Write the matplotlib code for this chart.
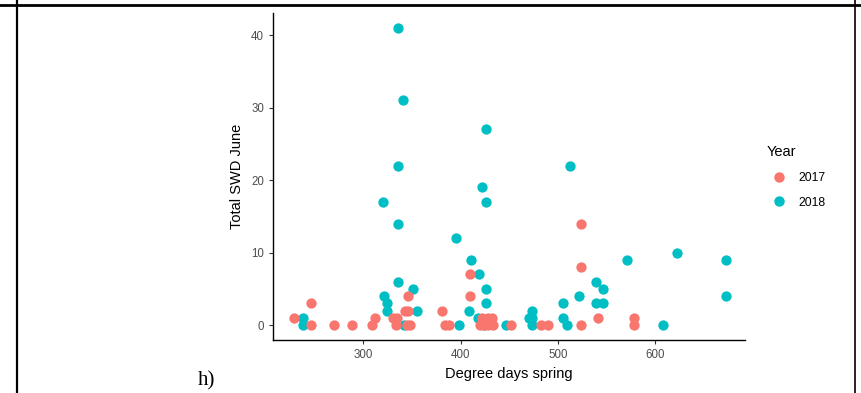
import matplotlib

matplotlib.use("Agg")
import matplotlib.pyplot as plt
from matplotlib.lines import Line2D

# ---- data ------------------------------------------------------------------
dd_2017 = [229, 247, 247, 270, 289, 309, 312, 331, 335, 334, 343, 346, 346,
           345, 348, 381, 384, 388, 410, 410, 422, 428, 432, 420, 424, 428,
           433, 452, 483, 490, 524, 524, 524, 541, 578, 578]
swd_2017 = [1, 3, 0, 0, 0, 0, 1, 1, 1, 0, 2, 2, 4,
            0, 0, 2, 0, 0, 4, 7, 1, 1, 1, 0, 0, 0,
            0, 0, 0, 0, 0, 8, 14, 1, 1, 0]

dd_2018 = [238, 238, 320, 321, 325, 325, 336, 336, 336, 336, 341, 342, 351,
           355, 395, 398, 409, 411, 418, 419, 422, 426, 426, 426, 426, 424,
           447, 470, 473, 473, 473, 505, 505, 509, 512, 522, 539, 539, 546,
           546, 571, 608, 622, 672, 672]
swd_2018 = [1, 0, 17, 4, 3, 2, 41, 22, 14, 6, 31, 0, 5,
            2, 12, 0, 2, 9, 1, 7, 19, 27, 17, 5, 3, 0,
            0, 1, 2, 1, 0, 3, 1, 0, 22, 4, 6, 3, 5,
            3, 9, 0, 10, 9, 4]

years = ["2017", "2018"]
colors = ["#F8766D", "#00BFC4"]
x_ticks = [300, 400, 500, 600]
y_ticks = [0, 10, 20, 30, 40]

plt.rcParams.update({"font.family": ["Liberation Sans", "DejaVu Sans"]})

W, H = 861, 393
fig = plt.figure(figsize=(W / 100, H / 100), dpi=100)

# page/table decoration around the panel
deco = fig.add_axes([0, 0, 1, 1])
deco.set_xlim(0, W)
deco.set_ylim(H, 0)
deco.axis("off")
deco.plot([0, W], [5, 5], color="black", lw=2.0)
deco.plot([17, 17], [0, H], color="black", lw=1.6)
deco.plot([855, 855], [0, H], color="black", lw=1.2)
deco.text(198, 381, "h)", family="Liberation Serif", fontsize=15,
          ha="left", va="center")

ax = fig.add_axes([273 / W, 1 - 340 / H, (745 - 273) / W, (340 - 12.7) / H])
ax.scatter(dd_2017, swd_2017, s=55, color=colors[0], linewidths=0, zorder=3)
ax.scatter(dd_2018, swd_2018, s=55, color=colors[1], linewidths=0, zorder=2)

ax.set_xlim(207.5, 692)
ax.set_ylim(-2.07, 43.1)
ax.set_xticks(x_ticks)
ax.set_yticks(y_ticks)
for s in ["top", "right"]:
    ax.spines[s].set_visible(False)
for s in ["left", "bottom"]:
    ax.spines[s].set_linewidth(1.0)
ax.tick_params(colors="#333333", labelcolor="#4D4D4D", labelsize=8.3,
               length=3, width=0.8)
ax.set_xlabel("Degree days spring", fontsize=10.5, labelpad=4)
ax.set_ylabel("Total SWD June", fontsize=10.5, labelpad=5)

handles = [Line2D([], [], marker="o", ls="", color=c, ms=7.5, mew=0)
           for c in colors]
leg = fig.legend(handles, years, title="Year", loc="upper left",
                 bbox_to_anchor=(756 / W, 1 - 134 / H), frameon=False,
                 fontsize=8.8, title_fontsize=10.5, handletextpad=0.6,
                 labelspacing=1.05)
leg._legend_box.align = "left"

fig.savefig("out.png", dpi=100)
